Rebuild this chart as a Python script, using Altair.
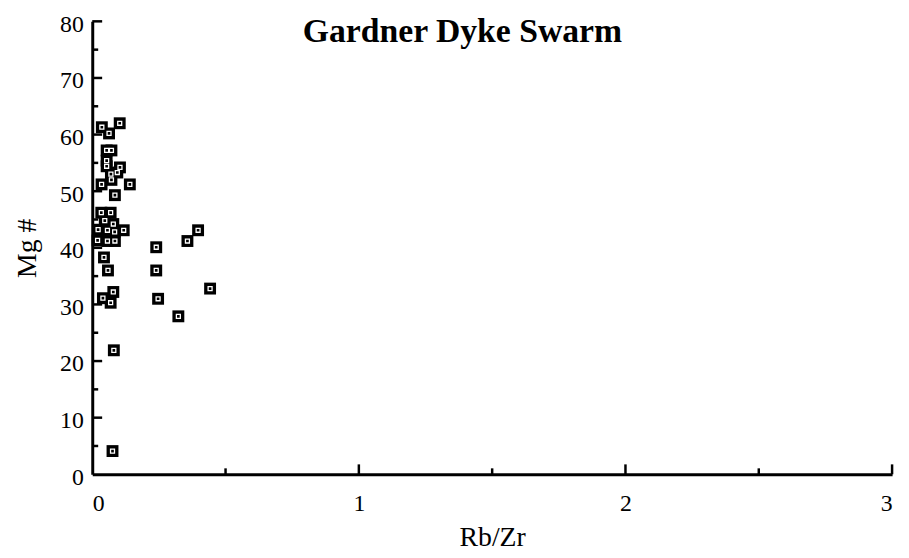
import altair as alt
import pandas as pd

# Data
RB_ZR = [0.036, 0.103, 0.063, 0.054, 0.072, 0.054, 0.054, 0.104, 0.070, 0.094,
         0.072, 0.035, 0.141, 0.085, 0.034, 0.069, 0.047, 0.079, 0.022, 0.057,
         0.084, 0.118, 0.057, 0.085, 0.020, 0.044, 0.059, 0.240, 0.240, 0.357,
         0.397, 0.442, 0.247, 0.323, 0.079, 0.040, 0.069, 0.081, 0.076]
MG_NUM = [61.3, 62.0, 60.2, 57.2, 57.2, 55.4, 54.4, 54.2, 53.0, 53.3,
          52.0, 51.2, 51.2, 49.3, 46.2, 46.2, 44.8, 44.2, 43.2, 43.1,
          42.8, 43.1, 41.2, 41.2, 41.3, 38.3, 36.0, 40.1, 36.0, 41.2,
          43.1, 32.8, 31.0, 27.9, 32.2, 31.1, 30.3, 21.9, 4.1]

X_LABELS = [0, 1, 2, 3]
Y_LABELS = [0, 10, 20, 30, 40, 50, 60, 70, 80]
X_TICKS_MAJOR = [1, 2, 3]
X_TICKS_MINOR = [0.5, 1.5, 2.5]
Y_TICKS_MAJOR = [10, 20, 30, 40, 50, 60, 70, 80]
Y_TICKS_MINOR = [5, 15, 25, 35, 45, 55, 65, 75]

W, H = 807, 457
FONT = "Liberation Serif"

df = pd.DataFrame({"rbzr": RB_ZR, "mg": MG_NUM})

xs = alt.Scale(domain=[0, 3], nice=False, zero=False)
ys = alt.Scale(domain=[0, 80], nice=False, zero=False)

x_enc = alt.X("rbzr:Q", scale=xs, title="Rb/Zr",
              axis=alt.Axis(values=X_LABELS, format="d", ticks=False, grid=False,
                            domainWidth=3, domainColor="black",
                            labelPadding=18, titlePadding=8))
y_enc = alt.Y("mg:Q", scale=ys, title="Mg #",
              axis=alt.Axis(values=Y_LABELS, format="d", ticks=False, grid=False,
                            domainWidth=3, domainColor="black",
                            labelPadding=9, labelOffset=3, titlePadding=18))

outer = alt.Chart(df).mark_square(size=144, color="black", opacity=1, filled=True).encode(
    x=x_enc, y=y_enc)
inner = alt.Chart(df).mark_square(size=16, filled=False, stroke="white",
                                  strokeWidth=1.3, opacity=1).encode(
    x=alt.X("rbzr:Q", scale=xs), y=alt.Y("mg:Q", scale=ys))

ytm = alt.Chart(pd.DataFrame({"v": Y_TICKS_MAJOR})).mark_rule(color="black", strokeWidth=2.5).encode(
    y=alt.Y("v:Q", scale=ys), x=alt.value(0), x2=alt.value(10))
ytn = alt.Chart(pd.DataFrame({"v": Y_TICKS_MINOR})).mark_rule(color="black", strokeWidth=2.5).encode(
    y=alt.Y("v:Q", scale=ys), x=alt.value(0), x2=alt.value(6))
xtm = alt.Chart(pd.DataFrame({"v": X_TICKS_MAJOR})).mark_rule(color="black", strokeWidth=2.5).encode(
    x=alt.X("v:Q", scale=xs), y=alt.value(H), y2=alt.value(H - 10))
xtn = alt.Chart(pd.DataFrame({"v": X_TICKS_MINOR})).mark_rule(color="black", strokeWidth=2.5).encode(
    x=alt.X("v:Q", scale=xs), y=alt.value(H), y2=alt.value(H - 6))

chart = alt.layer(outer, inner, ytm, ytn, xtm, xtn).properties(
    width=W, height=H,
    autosize=alt.AutoSizeParams(type="none"),
    padding={"left": 85, "top": 11, "right": 9, "bottom": 82},
    title=alt.TitleParams("Gardner Dyke Swarm", anchor="middle", frame="group",
                          font=FONT, fontSize=34, fontWeight="bold", color="black",
                          baseline="alphabetic", dx=-30, dy=64, offset=0),
).configure_view(stroke=None).configure_axis(
    labelFont=FONT, labelFontSize=24, labelColor="black", labelFontWeight="normal",
    titleFont=FONT, titleFontSize=28, titleColor="black", titleFontWeight="normal",
)

chart.save("out.html", embed_options={"renderer": "svg", "actions": False})
